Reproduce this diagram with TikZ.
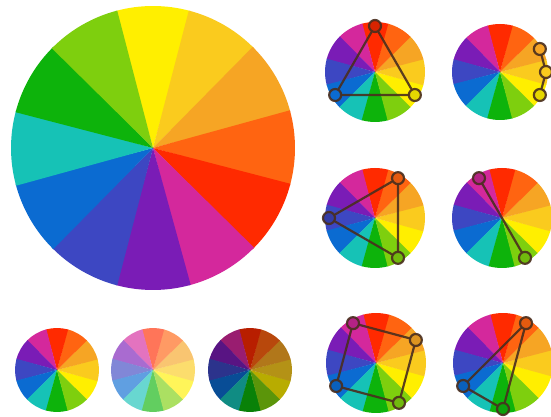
\documentclass[tikz,border=0pt]{standalone}
\usepackage{xcolor}
\usepackage{tikz}
\usetikzlibrary{positioning}
% colores del circulo cromatico (0 = amarillo, luego en orden)
\definecolor{cw0}{HTML}{FFEF00}
\definecolor{cw1}{HTML}{FACB1E}
\definecolor{cw2}{HTML}{F6A524}
\definecolor{cw3}{HTML}{FF6411}
\definecolor{cw4}{HTML}{FF2A00}
\definecolor{cw5}{HTML}{D4289C}
\definecolor{cw6}{HTML}{7A1CB6}
\definecolor{cw7}{HTML}{3D47C2}
\definecolor{cw8}{HTML}{0B6BD1}
\definecolor{cw9}{HTML}{16C2B6}
\definecolor{cw10}{HTML}{0DB30B}
\definecolor{cw11}{HTML}{7ECF0E}
\definecolor{trazo}{HTML}{4A2E1E}
\tikzset{
    color_dot/.style={circle, draw=trazo, draw opacity=0.9, line width=2.2pt, minimum size=12pt, inner sep=0pt},
    harmony_line/.style={draw=trazo, draw opacity=0.9, line width=2.2pt, line cap=round}
}
% #1 centro, #2 radio, #3 angulo inicial, #4 paso, #5 mezcla
\newcommand{\colorwheel}[5]{%
    \foreach \k in {0,...,11}{%
        \pgfmathsetmacro{\wang}{#3+#4*\k}
        \fill[fill=cw\k#5] (#1) -- ++(\wang-15.4:#2) arc[start angle=\wang-15.4, end angle=\wang+15.4, radius=#2] -- cycle;
    }%
}

\begin{document}
\begin{tikzpicture}[x=1pt, y=1pt]
    \useasboundingbox (0,0) rectangle (551,417);
    \clip (0,0) rectangle (551,417);
    \fill[white] (0,0) rectangle (551,417);

    \coordinate (big) at (153,269);
    \coordinate (w1) at (375,345);
    \coordinate (w2) at (500,345);
    \coordinate (w3) at (375,199);
    \coordinate (w4) at (502,199);
    \coordinate (w5) at (376,54);
    \coordinate (w6) at (503,54);
    \coordinate (tA) at (57,47);
    \coordinate (tB) at (153,47);
    \coordinate (tC) at (250,47);

    \colorwheel{big}{142}{90}{-30}{}
    \colorwheel{w1}{50}{-30}{30}{}
    \colorwheel{w2}{48}{-30}{30}{}
    \colorwheel{w3}{50}{-30}{30}{}
    \colorwheel{w4}{50}{-30}{30}{}
    \colorwheel{w5}{50}{-30}{30}{}
    \colorwheel{w6}{50}{-30}{30}{}
    \colorwheel{tA}{42}{-30}{30}{}
    \colorwheel{tB}{42}{-30}{30}{!65!white}
    \colorwheel{tC}{42}{-30}{30}{!72!black}

    % triada primaria
    \node[color_dot, fill=cw4!85!black] (t1_r) at ([shift={(90:46)}]w1) {};
    \node[color_dot, fill=cw0!90!black] (t1_y) at ([shift={(-30:46)}]w1) {};
    \node[color_dot, fill=cw8] (t1_b) at ([shift={(210:46)}]w1) {};
    \draw[harmony_line] (t1_r) -- (t1_y) (t1_y) -- (t1_b) (t1_b) -- (t1_r);

    % analogos
    \node[color_dot, fill=cw2] (a_o) at ([shift={(30:46)}]w2) {};
    \node[color_dot, fill=cw1] (a_a) at ([shift={(0:46)}]w2) {};
    \node[color_dot, fill=cw0!90!black] (a_y) at ([shift={(-30:46)}]w2) {};
    \draw[harmony_line] (a_o) -- (a_a) (a_a) -- (a_y);

    % triada terciaria
    \node[color_dot, fill=cw3!90!black] (t2_ro) at ([shift={(60:46)}]w3) {};
    \node[color_dot, fill=cw7!85!black] (t2_bv) at ([shift={(180:46)}]w3) {};
    \node[color_dot, fill=cw11!90!black] (t2_yg) at ([shift={(-60:46)}]w3) {};
    \draw[harmony_line] (t2_ro) -- (t2_yg) (t2_yg) -- (t2_bv) (t2_bv) -- (t2_ro);

    % complementarios
    \node[color_dot, fill=cw5!85!black] (c_m) at ([shift={(120:46)}]w4) {};
    \node[color_dot, fill=cw11!90!black] (c_yg) at ([shift={(-60:46)}]w4) {};
    \draw[harmony_line] (c_m) -- (c_yg);

    % tetrada
    \node[color_dot, fill=cw5!85!black] (q_m) at ([shift={(120:46)}]w5) {};
    \node[color_dot, fill=cw2!90!black] (q_o) at ([shift={(30:46)}]w5) {};
    \node[color_dot, fill=cw11!90!black] (q_yg) at ([shift={(-60:46)}]w5) {};
    \node[color_dot, fill=cw8!90!black] (q_b) at ([shift={(210:46)}]w5) {};
    \draw[harmony_line] (q_m) -- (q_o) (q_o) -- (q_yg) (q_yg) -- (q_b) (q_b) -- (q_m);

    % complementarios divididos
    \node[color_dot, fill=cw3!90!black] (s_ro) at ([shift={(60:46)}]w6) {};
    \node[color_dot, fill=cw8!90!black] (s_b) at ([shift={(210:46)}]w6) {};
    \node[color_dot, fill=cw10!90!black] (s_g) at ([shift={(270:46)}]w6) {};
    \draw[harmony_line] (s_ro) -- (s_b) (s_b) -- (s_g) (s_g) -- (s_ro);
\end{tikzpicture}
\end{document}
